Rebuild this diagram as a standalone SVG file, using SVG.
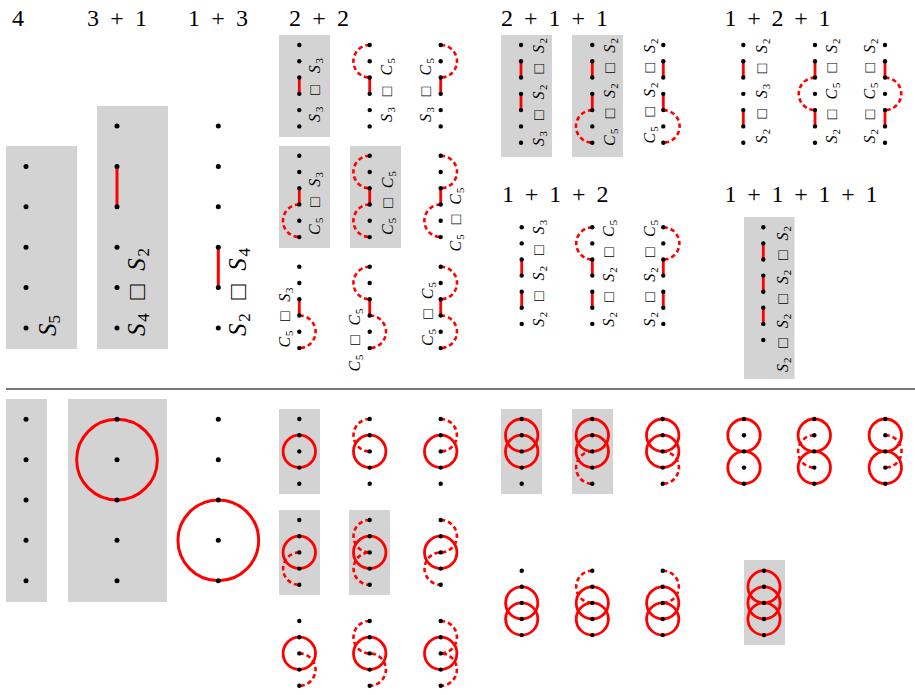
<svg xmlns="http://www.w3.org/2000/svg" width="915" height="695" viewBox="0 0 915 695">
<style>
.bg{fill:#d3d3d3}
.e{stroke:#ff0000;stroke-width:2.8;fill:none}
.E{stroke:#ff0000;stroke-width:3;fill:none}
.ds{stroke:#ff0000;stroke-width:2.6;fill:none;stroke-dasharray:4.5 3}
.c{stroke:#ff0000;stroke-width:2.8;fill:none}
.C{stroke:#ff0000;stroke-width:3;fill:none}
.t{font-size:24px}
.l{font-size:16px;word-spacing:4px}
.L{font-size:25px;word-spacing:4px}
.i{font-style:italic}
.s{font-size:0.68em}
.sep{stroke:#777;stroke-width:2}
</style>
<defs>
<g id="dL5"><circle cx="0" cy="0" r="2.5"/><circle cx="0" cy="40.4" r="2.5"/><circle cx="0" cy="80.8" r="2.5"/><circle cx="0" cy="121.2" r="2.5"/><circle cx="0" cy="161.6" r="2.5"/></g>
<g id="dL6"><use href="#dL5"/><circle cx="0" cy="202" r="2.5"/></g>
<g id="d6"><circle cx="0" cy="0" r="2.2"/><circle cx="0" cy="16.28" r="2.2"/><circle cx="0" cy="32.56" r="2.2"/><circle cx="0" cy="48.84" r="2.2"/><circle cx="0" cy="65.12" r="2.2"/><circle cx="0" cy="81.4" r="2.2"/></g>
<g id="d7"><use href="#d6"/><circle cx="0" cy="97.7" r="2.2"/></g>
<g id="q7"><circle cx="0" cy="0" r="2.2"/><circle cx="0" cy="16.1" r="2.2"/><circle cx="0" cy="32.2" r="2.2"/><circle cx="0" cy="48.3" r="2.2"/><circle cx="0" cy="64.4" r="2.2"/><circle cx="0" cy="80.5" r="2.2"/><circle cx="0" cy="96.6" r="2.2"/></g>
<g id="q8"><use href="#q7"/><circle cx="0" cy="112.7" r="2.2"/></g>
<g id="b5"><circle cx="0" cy="0" r="2.2"/><circle cx="0" cy="16.2" r="2.2"/><circle cx="0" cy="32.4" r="2.2"/><circle cx="0" cy="48.6" r="2.2"/><circle cx="0" cy="64.8" r="2.2"/></g>
<g id="p5"><circle cx="0" cy="0" r="2.2"/><circle cx="0" cy="16.1" r="2.2"/><circle cx="0" cy="32.2" r="2.2"/><circle cx="0" cy="48.3" r="2.2"/><circle cx="0" cy="64.4" r="2.2"/></g>
<g id="B5"><circle cx="0" cy="0" r="2.5"/><circle cx="0" cy="40.35" r="2.5"/><circle cx="0" cy="80.7" r="2.5"/><circle cx="0" cy="121.05" r="2.5"/><circle cx="0" cy="161.4" r="2.5"/></g>
</defs>
<rect width="915" height="695" fill="#fff"/>
<g font-family="Liberation Serif, DejaVu Serif, serif" fill="#000">

<g id="titles">
<text class="t" x="12" y="26">4</text>
<text class="t" x="87" y="26" textLength="60" lengthAdjust="spacing">3 + 1</text>
<text class="t" x="188" y="26" textLength="60" lengthAdjust="spacing">1 + 3</text>
<text class="t" x="289" y="26" textLength="60" lengthAdjust="spacing">2 + 2</text>
<text class="t" x="501" y="26" textLength="107" lengthAdjust="spacing">2 + 1 + 1</text>
<text class="t" x="724.5" y="26" textLength="106" lengthAdjust="spacing">1 + 2 + 1</text>
<text class="t" x="502" y="202" textLength="106.5" lengthAdjust="spacing">1 + 1 + 2</text>
<text class="t" x="724.5" y="202" textLength="153" lengthAdjust="spacing">1 + 1 + 1 + 1</text>
</g>

<!-- top large -->
<g id="t4">
<rect class="bg" x="6" y="146" width="71" height="203"/>
<use href="#dL5" x="26" y="166.4"/>
<text class="L" transform="translate(56 336) rotate(-90)"><tspan class="i">S</tspan><tspan class="s" dy="4">5</tspan></text>
</g>
<g id="t31">
<rect class="bg" x="97" y="106" width="71" height="243"/>
<path class="E" d="M117 166.4V206.8"/>
<use href="#dL6" x="117" y="126"/>
<text class="L" transform="translate(145 336) rotate(-90)" textLength="88" lengthAdjust="spacing"><tspan class="i">S</tspan><tspan class="s" dy="4">4</tspan><tspan dy="-4"> □ </tspan><tspan class="i">S</tspan><tspan class="s" dy="4">2</tspan></text>
</g>
<g id="t13">
<path class="E" d="M218.3 247.2V287.6"/>
<use href="#dL6" x="218.3" y="126"/>
<text class="L" transform="translate(246 336) rotate(-90)" textLength="88" lengthAdjust="spacing"><tspan class="i">S</tspan><tspan class="s" dy="4">2</tspan><tspan dy="-4"> □ </tspan><tspan class="i">S</tspan><tspan class="s" dy="4">4</tspan></text>
</g>

<!-- 2+2 top -->
<g id="t22r1c1">
<rect class="bg" x="279" y="35" width="51" height="102"/>
<path class="e" d="M299.3 77.6V93.8"/>
<use href="#d6" x="299.3" y="45"/>
<text class="l" transform="translate(320 122) rotate(-90)" textLength="64" lengthAdjust="spacing"><tspan class="i">S</tspan><tspan class="s" dy="3">3</tspan><tspan dy="-3"> □ </tspan><tspan class="i">S</tspan><tspan class="s" dy="3">3</tspan></text>
</g>
<g id="t22r1c2">
<path class="ds" d="M369.7 45A16.3 16.3 0 0 0 369.7 77.6"/>
<path class="e" d="M369.7 77.6V93.8"/>
<use href="#d6" x="369.7" y="45"/>
<text class="l" transform="translate(392 122) rotate(-90)" textLength="64" lengthAdjust="spacing"><tspan class="i">S</tspan><tspan class="s" dy="3">3</tspan><tspan dy="-3"> □ </tspan><tspan class="i">C</tspan><tspan class="s" dy="3">5</tspan></text>
</g>
<g id="t22r1c3">
<path class="ds" d="M440.7 45A16.3 16.3 0 0 1 440.7 77.6"/>
<path class="e" d="M440.7 77.6V93.8"/>
<use href="#d6" x="440.7" y="45"/>
<text class="l" transform="translate(431 122) rotate(-90)" textLength="64" lengthAdjust="spacing"><tspan class="i">S</tspan><tspan class="s" dy="3">3</tspan><tspan dy="-3"> □ </tspan><tspan class="i">C</tspan><tspan class="s" dy="3">5</tspan></text>
</g>
<g id="t22r2c1">
<rect class="bg" x="279" y="146" width="51" height="102"/>
<path class="e" d="M299.3 188.3V204.5"/>
<path class="ds" d="M299.3 204.5A16.3 16.3 0 0 0 299.3 237.1"/>
<use href="#d6" x="299.3" y="155.7"/>
<text class="l" transform="translate(320 235) rotate(-90)" textLength="63" lengthAdjust="spacing"><tspan class="i">C</tspan><tspan class="s" dy="3">5</tspan><tspan dy="-3"> □ </tspan><tspan class="i">S</tspan><tspan class="s" dy="3">3</tspan></text>
</g>
<g id="t22r2c2">
<rect class="bg" x="350" y="146" width="51" height="102"/>
<path class="ds" d="M369.7 155.7A16.3 16.3 0 0 0 369.7 188.3"/>
<path class="e" d="M369.7 188.3V204.5"/>
<path class="ds" d="M369.7 204.5A16.3 16.3 0 0 0 369.7 237.1"/>
<use href="#d6" x="369.7" y="155.7"/>
<text class="l" transform="translate(393 235) rotate(-90)" textLength="64" lengthAdjust="spacing"><tspan class="i">C</tspan><tspan class="s" dy="3">5</tspan><tspan dy="-3"> □ </tspan><tspan class="i">C</tspan><tspan class="s" dy="3">5</tspan></text>
</g>
<g id="t22r2c3">
<path class="ds" d="M440.7 155.7A16.3 16.3 0 0 1 440.7 188.3"/>
<path class="e" d="M440.7 188.3V204.5"/>
<path class="ds" d="M440.7 204.5A16.3 16.3 0 0 0 440.7 237.1"/>
<use href="#d6" x="440.7" y="155.7"/>
<text class="l" transform="translate(461 251.5) rotate(-90)" textLength="64" lengthAdjust="spacing"><tspan class="i">C</tspan><tspan class="s" dy="3">5</tspan><tspan dy="-3"> □ </tspan><tspan class="i">C</tspan><tspan class="s" dy="3">5</tspan></text>
</g>
<g id="t22r3c1">
<path class="e" d="M299.3 299.3V315.5"/>
<path class="ds" d="M299.3 315.5A16.3 16.3 0 0 1 299.3 348.1"/>
<use href="#d6" x="299.3" y="266.7"/>
<text class="l" transform="translate(290 347.5) rotate(-90)" textLength="60" lengthAdjust="spacing"><tspan class="i">C</tspan><tspan class="s" dy="3">5</tspan><tspan dy="-3"> □ </tspan><tspan class="i">S</tspan><tspan class="s" dy="3">3</tspan></text>
</g>
<g id="t22r3c2">
<path class="ds" d="M369.7 266.7A16.3 16.3 0 0 0 369.7 299.3"/>
<path class="e" d="M369.7 299.3V315.5"/>
<path class="ds" d="M369.7 315.5A16.3 16.3 0 0 1 369.7 348.1"/>
<use href="#d6" x="369.7" y="266.7"/>
<text class="l" transform="translate(360 371.5) rotate(-90)" textLength="63" lengthAdjust="spacing"><tspan class="i">C</tspan><tspan class="s" dy="3">5</tspan><tspan dy="-3"> □ </tspan><tspan class="i">C</tspan><tspan class="s" dy="3">5</tspan></text>
</g>
<g id="t22r3c3">
<path class="ds" d="M440.7 266.7A16.3 16.3 0 0 1 440.7 299.3"/>
<path class="e" d="M440.7 299.3V315.5"/>
<path class="ds" d="M440.7 315.5A16.3 16.3 0 0 1 440.7 348.1"/>
<use href="#d6" x="440.7" y="266.7"/>
<text class="l" transform="translate(433 346) rotate(-90)" textLength="64" lengthAdjust="spacing"><tspan class="i">C</tspan><tspan class="s" dy="3">5</tspan><tspan dy="-3"> □ </tspan><tspan class="i">C</tspan><tspan class="s" dy="3">5</tspan></text>
</g>

<!-- 2+1+1 top -->
<g id="t211c1">
<rect class="bg" x="501" y="35" width="51" height="122"/>
<path class="e" d="M521 61.3V77.6M521 93.8V110.1"/>
<use href="#d7" x="521" y="45"/>
<text class="l" transform="translate(544 146) rotate(-90)" textLength="108" lengthAdjust="spacing"><tspan class="i">S</tspan><tspan class="s" dy="3">3</tspan><tspan dy="-3"> □ </tspan><tspan class="i">S</tspan><tspan class="s" dy="3">2</tspan><tspan dy="-3"> □ </tspan><tspan class="i">S</tspan><tspan class="s" dy="3">2</tspan></text>
</g>
<g id="t211c2">
<rect class="bg" x="572" y="35" width="51" height="122"/>
<path class="e" d="M592.3 61.3V77.6M592.3 93.8V110.1"/>
<path class="ds" d="M592.3 110.1A16.3 16.3 0 0 0 592.3 142.7"/>
<use href="#d7" x="592.3" y="45"/>
<text class="l" transform="translate(615 146) rotate(-90)" textLength="108" lengthAdjust="spacing"><tspan class="i">C</tspan><tspan class="s" dy="3">5</tspan><tspan dy="-3"> □ </tspan><tspan class="i">S</tspan><tspan class="s" dy="3">2</tspan><tspan dy="-3"> □ </tspan><tspan class="i">S</tspan><tspan class="s" dy="3">2</tspan></text>
</g>
<g id="t211c3">
<path class="e" d="M663.3 61.3V77.6M663.3 93.8V110.1"/>
<path class="ds" d="M663.3 110.1A16.3 16.3 0 0 1 663.3 142.7"/>
<use href="#d7" x="663.3" y="45"/>
<text class="l" transform="translate(655 143.5) rotate(-90)" textLength="105" lengthAdjust="spacing"><tspan class="i">C</tspan><tspan class="s" dy="3">5</tspan><tspan dy="-3"> □ </tspan><tspan class="i">S</tspan><tspan class="s" dy="3">2</tspan><tspan dy="-3"> □ </tspan><tspan class="i">S</tspan><tspan class="s" dy="3">2</tspan></text>
</g>

<!-- 1+2+1 top -->
<g id="t121c1">
<path class="e" d="M743.3 61.3V77.6M743.3 110.1V126.4"/>
<use href="#d7" x="743.3" y="45"/>
<text class="l" transform="translate(767 143.5) rotate(-90)" textLength="105" lengthAdjust="spacing"><tspan class="i">S</tspan><tspan class="s" dy="3">2</tspan><tspan dy="-3"> □ </tspan><tspan class="i">S</tspan><tspan class="s" dy="3">3</tspan><tspan dy="-3"> □ </tspan><tspan class="i">S</tspan><tspan class="s" dy="3">2</tspan></text>
</g>
<g id="t121c2">
<path class="e" d="M815 61.3V77.6M815 110.1V126.4"/>
<path class="ds" d="M815 77.6A16.25 16.25 0 0 0 815 110.1"/>
<use href="#d7" x="815" y="45"/>
<text class="l" transform="translate(837 143.5) rotate(-90)" textLength="105" lengthAdjust="spacing"><tspan class="i">S</tspan><tspan class="s" dy="3">2</tspan><tspan dy="-3"> □ </tspan><tspan class="i">C</tspan><tspan class="s" dy="3">5</tspan><tspan dy="-3"> □ </tspan><tspan class="i">S</tspan><tspan class="s" dy="3">2</tspan></text>
</g>
<g id="t121c3">
<path class="e" d="M885 61.3V77.6M885 110.1V126.4"/>
<path class="ds" d="M885 77.6A16.25 16.25 0 0 1 885 110.1"/>
<use href="#d7" x="885" y="45"/>
<text class="l" transform="translate(875 143.5) rotate(-90)" textLength="105" lengthAdjust="spacing"><tspan class="i">S</tspan><tspan class="s" dy="3">2</tspan><tspan dy="-3"> □ </tspan><tspan class="i">C</tspan><tspan class="s" dy="3">5</tspan><tspan dy="-3"> □ </tspan><tspan class="i">S</tspan><tspan class="s" dy="3">2</tspan></text>
</g>

<!-- 1+1+2 top -->
<g id="t112c1">
<path class="e" d="M521.7 259.5V275.6M521.7 291.7V307.8"/>
<use href="#q7" x="521.7" y="227.3"/>
<text class="l" transform="translate(543.5 326.7) rotate(-90)" textLength="107" lengthAdjust="spacing"><tspan class="i">S</tspan><tspan class="s" dy="3">2</tspan><tspan dy="-3"> □ </tspan><tspan class="i">S</tspan><tspan class="s" dy="3">2</tspan><tspan dy="-3"> □ </tspan><tspan class="i">S</tspan><tspan class="s" dy="3">3</tspan></text>
</g>
<g id="t112c2">
<path class="ds" d="M592.3 227.3A16.1 16.1 0 0 0 592.3 259.5"/>
<path class="e" d="M592.3 259.5V275.6M592.3 291.7V307.8"/>
<use href="#q7" x="592.3" y="227.3"/>
<text class="l" transform="translate(613.5 326.7) rotate(-90)" textLength="107" lengthAdjust="spacing"><tspan class="i">S</tspan><tspan class="s" dy="3">2</tspan><tspan dy="-3"> □ </tspan><tspan class="i">S</tspan><tspan class="s" dy="3">2</tspan><tspan dy="-3"> □ </tspan><tspan class="i">C</tspan><tspan class="s" dy="3">5</tspan></text>
</g>
<g id="t112c3">
<path class="ds" d="M663.3 227.3A16.1 16.1 0 0 1 663.3 259.5"/>
<path class="e" d="M663.3 259.5V275.6M663.3 291.7V307.8"/>
<use href="#q7" x="663.3" y="227.3"/>
<text class="l" transform="translate(654.5 326.7) rotate(-90)" textLength="107" lengthAdjust="spacing"><tspan class="i">S</tspan><tspan class="s" dy="3">2</tspan><tspan dy="-3"> □ </tspan><tspan class="i">S</tspan><tspan class="s" dy="3">2</tspan><tspan dy="-3"> □ </tspan><tspan class="i">C</tspan><tspan class="s" dy="3">5</tspan></text>
</g>

<!-- 1+1+1+1 top -->
<g id="t1111">
<rect class="bg" x="744" y="217" width="50.5" height="162"/>
<path class="e" d="M763.3 243.4V259.5M763.3 275.6V291.7M763.3 307.8V323.9"/>
<use href="#q8" x="763.3" y="227.3"/>
<text class="l" transform="translate(788 372) rotate(-90)" textLength="146" lengthAdjust="spacing"><tspan class="i">S</tspan><tspan class="s" dy="3">2</tspan><tspan dy="-3"> □ </tspan><tspan class="i">S</tspan><tspan class="s" dy="3">2</tspan><tspan dy="-3"> □ </tspan><tspan class="i">S</tspan><tspan class="s" dy="3">2</tspan><tspan dy="-3"> □ </tspan><tspan class="i">S</tspan><tspan class="s" dy="3">2</tspan></text>
</g>
</g>

<line id="separator" class="sep" x1="6" y1="389" x2="915" y2="389"/>

<!-- bottom large -->
<g id="b4">
<rect class="bg" x="6" y="399" width="41" height="203"/>
<use href="#B5" x="26" y="419.3"/>
</g>
<g id="b31">
<rect class="bg" x="68" y="399" width="99" height="203"/>
<circle class="C" cx="117" cy="459.65" r="40.35"/>
<use href="#B5" x="117" y="419.3"/>
</g>
<g id="b13">
<circle class="C" cx="218.3" cy="540.35" r="40.35"/>
<use href="#B5" x="218.3" y="419.3"/>
</g>

<!-- 2+2 bottom -->
<g id="b22r1c1">
<rect class="bg" x="279" y="409" width="41" height="85"/>
<circle class="c" cx="299.3" cy="451.4" r="16.2"/>
<use href="#b5" x="299.3" y="419"/>
</g>
<g id="b22r1c2">
<circle class="c" cx="369.7" cy="451.4" r="16.2"/>
<path class="ds" d="M369.7 419A16.2 16.2 0 0 0 369.7 451.4"/>
<use href="#b5" x="369.7" y="419"/>
</g>
<g id="b22r1c3">
<circle class="c" cx="440.7" cy="451.4" r="16.2"/>
<path class="ds" d="M440.7 419A16.2 16.2 0 0 1 440.7 451.4"/>
<use href="#b5" x="440.7" y="419"/>
</g>
<g id="b22r2c1">
<rect class="bg" x="279" y="510" width="41" height="85"/>
<circle class="c" cx="299.3" cy="552.4" r="16.2"/>
<path class="ds" d="M299.3 552.4A16.2 16.2 0 0 0 299.3 584.8"/>
<use href="#b5" x="299.3" y="520"/>
</g>
<g id="b22r2c2">
<rect class="bg" x="349" y="510" width="41" height="85"/>
<circle class="c" cx="369.7" cy="552.4" r="16.2"/>
<path class="ds" d="M369.7 520A16.2 16.2 0 0 0 369.7 552.4A16.2 16.2 0 0 0 369.7 584.8"/>
<use href="#b5" x="369.7" y="520"/>
</g>
<g id="b22r2c3">
<circle class="c" cx="440.7" cy="552.4" r="16.2"/>
<path class="ds" d="M440.7 520A16.2 16.2 0 0 1 440.7 552.4A16.2 16.2 0 0 0 440.7 584.8"/>
<use href="#b5" x="440.7" y="520"/>
</g>
<g id="b22r3c1">
<circle class="c" cx="299.3" cy="653.4" r="16.2"/>
<path class="ds" d="M299.3 653.4A16.2 16.2 0 0 1 299.3 685.8"/>
<use href="#b5" x="299.3" y="621"/>
</g>
<g id="b22r3c2">
<circle class="c" cx="369.7" cy="653.4" r="16.2"/>
<path class="ds" d="M369.7 621A16.2 16.2 0 0 0 369.7 653.4A16.2 16.2 0 0 1 369.7 685.8"/>
<use href="#b5" x="369.7" y="621"/>
</g>
<g id="b22r3c3">
<circle class="c" cx="440.7" cy="653.4" r="16.2"/>
<path class="ds" d="M440.7 621A16.2 16.2 0 0 1 440.7 653.4A16.2 16.2 0 0 1 440.7 685.8"/>
<use href="#b5" x="440.7" y="621"/>
</g>

<!-- 2+1+1 bottom -->
<g id="b211c1">
<rect class="bg" x="501" y="409" width="41" height="85"/>
<circle class="c" cx="521.7" cy="435.2" r="16.2"/>
<circle class="c" cx="521.7" cy="451.4" r="16.2"/>
<use href="#b5" x="521.7" y="419"/>
</g>
<g id="b211c2">
<rect class="bg" x="572" y="409" width="41" height="85"/>
<circle class="c" cx="592.3" cy="435.2" r="16.2"/>
<circle class="c" cx="592.3" cy="451.4" r="16.2"/>
<path class="ds" d="M592.3 451.4A16.2 16.2 0 0 0 592.3 483.8"/>
<use href="#b5" x="592.3" y="419"/>
</g>
<g id="b211c3">
<circle class="c" cx="662.7" cy="435.2" r="16.2"/>
<circle class="c" cx="662.7" cy="451.4" r="16.2"/>
<path class="ds" d="M662.7 451.4A16.2 16.2 0 0 1 662.7 483.8"/>
<use href="#b5" x="662.7" y="419"/>
</g>

<!-- 1+2+1 bottom -->
<g id="b121c1">
<circle class="c" cx="744" cy="435.2" r="16.2"/>
<circle class="c" cx="744" cy="467.6" r="16.2"/>
<use href="#b5" x="744" y="419"/>
</g>
<g id="b121c2">
<circle class="c" cx="814.3" cy="435.2" r="16.2"/>
<circle class="c" cx="814.3" cy="467.6" r="16.2"/>
<path class="ds" d="M814.3 435.2A16.2 16.2 0 0 0 814.3 467.6"/>
<use href="#b5" x="814.3" y="419"/>
</g>
<g id="b121c3">
<circle class="c" cx="885.3" cy="435.2" r="16.2"/>
<circle class="c" cx="885.3" cy="467.6" r="16.2"/>
<path class="ds" d="M885.3 435.2A16.2 16.2 0 0 1 885.3 467.6"/>
<use href="#b5" x="885.3" y="419"/>
</g>

<!-- 1+1+2 bottom -->
<g id="b112c1">
<circle class="c" cx="521.7" cy="602.9" r="16.1"/>
<circle class="c" cx="521.7" cy="619" r="16.1"/>
<use href="#p5" x="521.7" y="570.7"/>
</g>
<g id="b112c2">
<circle class="c" cx="592.3" cy="602.9" r="16.1"/>
<circle class="c" cx="592.3" cy="619" r="16.1"/>
<path class="ds" d="M592.3 570.7A16.1 16.1 0 0 0 592.3 602.9"/>
<use href="#p5" x="592.3" y="570.7"/>
</g>
<g id="b112c3">
<circle class="c" cx="662.7" cy="602.9" r="16.1"/>
<circle class="c" cx="662.7" cy="619" r="16.1"/>
<path class="ds" d="M662.7 570.7A16.1 16.1 0 0 1 662.7 602.9"/>
<use href="#p5" x="662.7" y="570.7"/>
</g>

<!-- 1+1+1+1 bottom -->
<g id="b1111">
<rect class="bg" x="744" y="560" width="41" height="85"/>
<circle class="c" cx="764" cy="586.8" r="16.1"/>
<circle class="c" cx="764" cy="602.9" r="16.1"/>
<circle class="c" cx="764" cy="619" r="16.1"/>
<use href="#p5" x="764" y="570.7"/>
</g>
</svg>
